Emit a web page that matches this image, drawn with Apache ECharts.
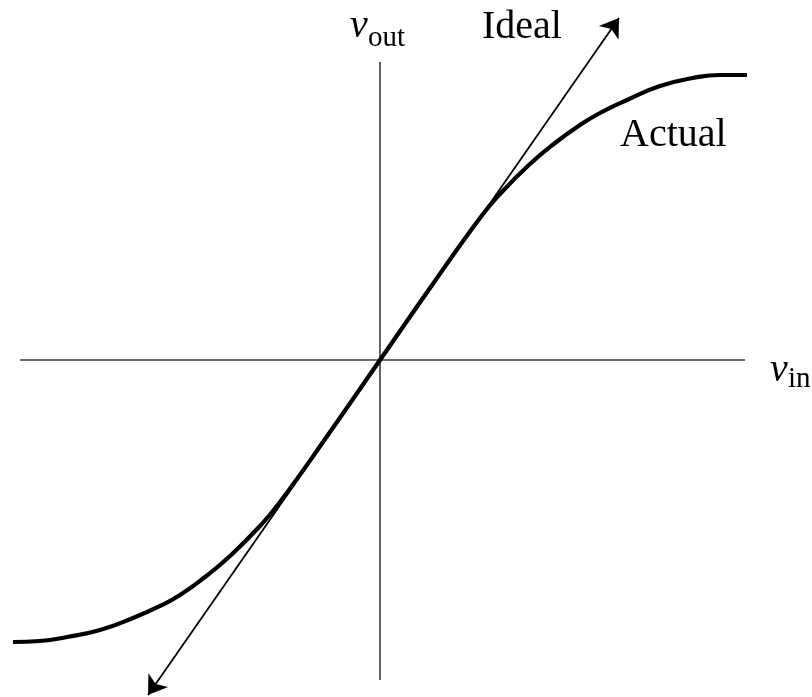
<!DOCTYPE html>
<html>
<head>
<meta charset="utf-8">
<script src="https://cdn.jsdelivr.net/npm/echarts@6/dist/echarts.min.js"></script>
<style>
  html, body { margin: 0; padding: 0; background: #fff; }
  #main { width: 812px; height: 697px; }
</style>
</head>
<body>
<div id="main"></div>
<script>
// transfer characteristic: ideal vs actual

var myChart = echarts.init(document.getElementById('main'));

// actual curve (v_in, v_out)
var actualIn  = [-3.67, -3.4, -3.13, -2.8, -2.47, -2.2, -2.0, -1.75, -1.5, -1.2, -1.0, -0.5, 0, 0.5, 1.0, 1.2, 1.5, 1.75, 2.0, 2.2, 2.47, 2.8, 3.13, 3.4, 3.67];
var actualOut = [-2.82, -2.81, -2.77, -2.7, -2.58, -2.46, -2.35, -2.17, -1.96, -1.66, -1.42, -0.72, 0, 0.72, 1.42, 1.66, 1.96, 2.17, 2.35, 2.47, 2.6, 2.74, 2.82, 2.85, 2.85];

// ideal line end points (arrow tips)
var idealIn  = [-2.32, 2.39];
var idealOut = [-3.35, 3.42];

// axes extents
var hAxisIn = [-3.6, 3.65];
var vAxisOut = [-3.2, 2.98];

var actualData = actualIn.map(function (x, i) { return [x, actualOut[i]]; });

var FONT = '"Liberation Serif", "DejaVu Serif", serif';

myChart.setOption({
    animation: false,
    backgroundColor: '#fff',
    grid: { left: 0, right: 0, top: 0, bottom: 0 },
    xAxis: { type: 'value', min: -3.8, max: 4.32, show: false },
    yAxis: { type: 'value', min: -3.37, max: 3.6, show: false },
    series: [
        {
            // horizontal axis
            type: 'line',
            data: [[hAxisIn[0], 0], [hAxisIn[1], 0]],
            symbol: 'none',
            lineStyle: { color: '#3a3a3a', width: 1.6 },
            silent: true
        },
        {
            // vertical axis
            type: 'line',
            data: [[0, vAxisOut[0]], [0, vAxisOut[1]]],
            symbol: 'none',
            lineStyle: { color: '#3a3a3a', width: 1.6 },
            silent: true
        },
        {
            // ideal
            type: 'lines',
            coordinateSystem: 'cartesian2d',
            symbol: ['arrow', 'arrow'],
            symbolSize: 18,
            lineStyle: { color: '#000', width: 1.8, opacity: 1 },
            data: [{ coords: [[idealIn[0], idealOut[0]], [idealIn[1], idealOut[1]]] }],
            silent: true
        },
        {
            // actual
            type: 'line',
            data: actualData,
            smooth: 0.5,
            symbol: 'none',
            lineStyle: { color: '#000', width: 4.2 },
            silent: true,
            z: 3
        }
    ],
    graphic: [
        { type: 'text', left: 350, top: 6, style: { text: 'v', font: 'italic 40px ' + FONT, fill: '#000' } },
        { type: 'text', left: 368, top: 24, style: { text: 'out', font: '29px ' + FONT, fill: '#000' } },
        { type: 'text', left: 482, top: 7, style: { text: 'Ideal', font: '40px ' + FONT, fill: '#000' } },
        { type: 'text', left: 620, top: 115, style: { text: 'Actual', font: '40px ' + FONT, fill: '#000' } },
        { type: 'text', left: 770, top: 350, style: { text: 'v', font: 'italic 40px ' + FONT, fill: '#000' } },
        { type: 'text', left: 788, top: 365, style: { text: 'in', font: '29px ' + FONT, fill: '#000' } }
    ]
});
</script>
</body>
</html>
